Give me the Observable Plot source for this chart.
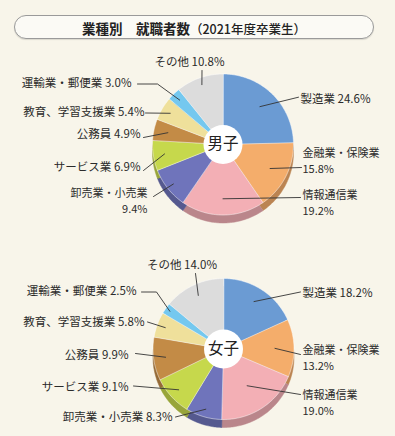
<!DOCTYPE html>
<html><head><meta charset="utf-8">
<script src="https://cdn.jsdelivr.net/npm/d3@7"></script>
<script src="https://cdn.jsdelivr.net/npm/@observablehq/plot@0.6"></script>
<style>
html,body{margin:0;padding:0;background:#f8f5ea;}
body{width:395px;height:436px;overflow:hidden;font-family:"Noto Sans CJK JP",sans-serif;}
#head{position:relative;height:50px;}
#title{position:absolute;left:14px;top:15px;width:358px;height:22px;border:1.5px solid #9a9a9a;border-radius:12px;background:#fbfaf5;text-align:center;line-height:23px;color:#222;box-shadow:0 1px 1px rgba(0,0,0,0.12);white-space:nowrap;}
#title b{font-size:13.5px;font-weight:700;}
#title span{font-size:12.5px;font-weight:500;}
#chart svg{display:block;background:transparent;}
</style></head><body>
<div id="head"><div id="title"><b>業種別　就職者数</b><span>（2021年度卒業生）</span></div></div>
<div id="chart"></div>
<script>
// ---- data ----
const categories = ["製造業","金融業・保険業","情報通信業","卸売業・小売業","サービス業","公務員","教育、学習支援業","運輸業・郵便業","その他"];
const groups = ["男子","女子"];
const maleValues = [24.6,15.8,19.2,9.4,6.9,4.9,5.4,3.0,10.8];
const femaleValues = [18.2,13.2,19.0,8.3,9.1,9.9,5.8,2.5,14.0];
const colors = ["#6b9bd3","#f4ad6b","#f3afb5","#6f74bb","#c6d84c","#c38b46","#efe09b","#74c8ef","#dcdcdc"];

// ---- layout (pixel offsets relative to each pie centre) ----
const R = 70.5;
const centers = {"男子":[0,0], "女子":[0.5,204.5]};
// label: [dx, dy, anchor, twoLine, leaderOuter, elbow, innerFrac]
const layout = {
  "男子": [
    [77.5,-45,"start",false,[75.5,-47.3],null,0.75],
    [79.5,17,"start",true,[78.5,23],null,0.75],
    [79.5,58.5,"start",true,[77.5,53],null,0.77],
    [-75.5,56.5,"end",true,[-69.5,52],null,0.9],
    [-82.5,23,"end",false,[-79.5,26],null,0.84],
    [-82.5,-10,"end",false,[-79.5,-7],null,0.8],
    [-78.5,-32,"end",false,[-77.5,-31.5],null,0.87],
    [-91.5,-61,"end",false,[-85.5,-60.5],[-65.5,-60.5],0.88],
    [-33.5,-82,"middle",false,[-21,-74],null,0.9]
  ],
  "女子": [
    [79,-56,"start",false,[77,-57],null,0.8],
    [79,9,"start",true,[77,5.5],null,0.73],
    [79,54.5,"start",true,[77,45.5],null,0.62],
    [-51,68.5,"end",false,[-48,68],null,0.89],
    [-95,38,"end",false,[-90,37],null,0.86],
    [-95,6.5,"end",false,[-88,4.5],null,0.83],
    [-79,-26.5,"end",false,[-76,-27],null,0.88],
    [-87,-57.5,"end",false,[-82,-57],[-67,-57],0.93],
    [-41.5,-83.5,"middle",false,[-28,-75.5],null,0.84]
  ]
};

const valuesBy = {"男子": maleValues, "女子": femaleValues};
const slices = [], leaders = [], labels = [], centres = [];
for (const g of groups) {
  const [cx, cy] = centers[g];
  centres.push({g, x: cx, y: cy});
  let acc = 0;
  valuesBy[g].forEach((v, i) => {
    const a0 = acc / 100 * 2 * Math.PI, a1 = (acc + v) / 100 * 2 * Math.PI;
    acc += v;
    const key = g + i;
    slices.push({key, x: cx, y: cy, color: colors[i]});
    const n = Math.max(2, Math.ceil((a1 - a0) / (Math.PI / 180)));
    for (let k = 0; k <= n; k++) {
      const a = a0 + (a1 - a0) * k / n;
      slices.push({key, x: cx + R * Math.sin(a), y: cy - R * Math.cos(a), color: colors[i]});
    }
    const [dx, dy, anchor, two, outer, elbow, frac] = layout[g][i];
    const am = (a0 + a1) / 2;
    leaders.push({key, x: cx + frac * R * Math.sin(am), y: cy - frac * R * Math.cos(am)});
    if (elbow) leaders.push({key, x: cx + elbow[0], y: cy + elbow[1]});
    leaders.push({key, x: cx + outer[0], y: cy + outer[1]});
    const valText = v.toFixed(1) + "%";
    if (two) {
      labels.push({x: cx + dx, y: cy + dy - 8, anchor, size: 11, text: categories[i]});
      labels.push({x: cx + dx, y: cy + dy + 8, anchor, size: 11, text: valText});
    } else {
      labels.push({x: cx + dx, y: cy + dy, anchor, size: 11.5, text: categories[i] + " " + valText});
    }
  });
}
const shade = slices.map(d => ({...d, color: d3.color(d.color).darker(0.75).formatHex()}));
const font = {fontFamily: "'Noto Sans CJK JP', sans-serif", fill: "#2b2b2b"};
const textMarks = [];
for (const anchor of ["start", "end", "middle"]) {
  for (const size of [11, 11.5]) {
    const rows = labels.filter(d => d.anchor === anchor && d.size === size);
    if (rows.length) textMarks.push(Plot.text(rows, {x: "x", y: "y", text: "text", textAnchor: anchor, fontSize: size, ...font}));
  }
}

const chart = Plot.plot({
  width: 395, height: 386, margin: 0,
  x: {domain: [-222.5, 172.5], range: [0, 395], axis: null},
  y: {domain: [-94, 292], range: [0, 386], axis: null},
  color: {type: "identity"},
  style: {background: "transparent", overflow: "visible"},
  marks: [
    Plot.line(shade, {x: "x", y: "y", z: "key", fill: "color", stroke: "color", strokeWidth: 0.5, curve: "linear-closed", dy: 8}),
    Plot.line(slices, {x: "x", y: "y", z: "key", fill: "color", stroke: "#ffffff", strokeWidth: 0.6, strokeOpacity: 0.8, curve: "linear-closed"}),
    Plot.line(leaders, {x: "x", y: "y", z: "key", stroke: "#333", strokeWidth: 0.9}),
    Plot.dot(centres, {x: "x", y: "y", r: 19.5, fill: "white", stroke: "none"}),
    Plot.text(centres, {x: "x", y: "y", text: "g", fontFamily: "'Noto Sans CJK JP', sans-serif", fontSize: 15.5, fill: "#222"}),
    ...textMarks
  ]
});
document.getElementById("chart").append(chart);
</script>
</body></html>
